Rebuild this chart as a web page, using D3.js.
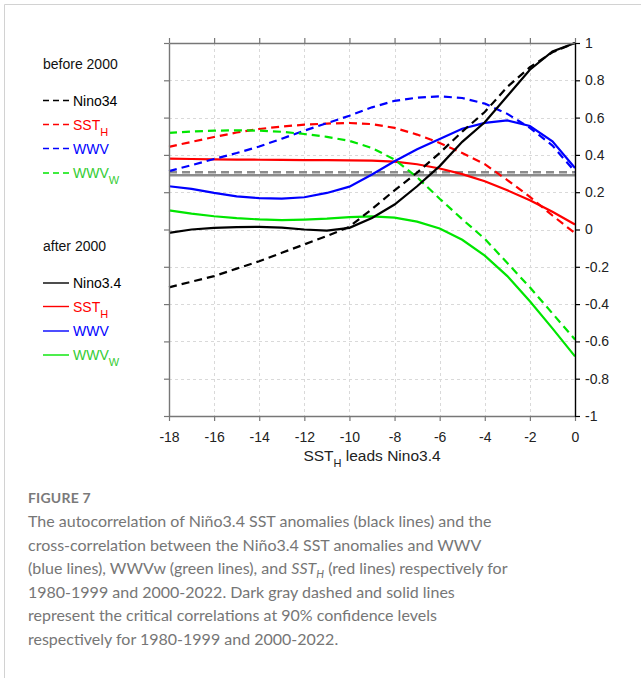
<!DOCTYPE html>
<html>
<head>
<meta charset="utf-8">
<script src="https://cdn.jsdelivr.net/npm/d3@7"></script>
<style>
  body { margin: 0; background: #fff; }
  svg { display: block; }
</style>
</head>
<body>
<svg id="fig" width="641" height="678"></svg>
<script>
// Lag in months (negative: SST_H / WWV lead Nino3.4)
const lags = [-18, -17, -16, -15, -14, -13, -12, -11, -10, -9, -8, -7, -6, -5, -4, -3, -2, -1, 0];

// 1980-1999 (before 2000)
const nino34Before = [-0.31, -0.28, -0.25, -0.21, -0.17, -0.125, -0.08, -0.035, 0.015, 0.11, 0.21, 0.305, 0.41, 0.525, 0.63, 0.765, 0.87, 0.95, 1.0];
const ssthBefore   = [0.443, 0.47, 0.496, 0.52, 0.539, 0.552, 0.562, 0.568, 0.571, 0.565, 0.545, 0.509, 0.464, 0.41, 0.35, 0.265, 0.175, 0.075, -0.02];
const wwvBefore    = [0.313, 0.345, 0.378, 0.41, 0.445, 0.487, 0.53, 0.57, 0.61, 0.655, 0.69, 0.707, 0.714, 0.705, 0.675, 0.62, 0.545, 0.45, 0.31];
const wwvwBefore   = [0.518, 0.525, 0.53, 0.532, 0.53, 0.524, 0.512, 0.497, 0.475, 0.437, 0.375, 0.28, 0.165, 0.055, -0.05, -0.18, -0.31, -0.45, -0.59];

// 2000-2022 (after 2000)
const nino34After  = [-0.018, 0.0, 0.009, 0.013, 0.014, 0.01, 0.0, -0.006, 0.009, 0.062, 0.134, 0.232, 0.34, 0.47, 0.575, 0.716, 0.857, 0.955, 1.0];
const ssthAfter    = [0.38, 0.378, 0.376, 0.375, 0.374, 0.373, 0.372, 0.372, 0.371, 0.369, 0.364, 0.35, 0.327, 0.297, 0.259, 0.21, 0.157, 0.095, 0.027];
const wwvAfter     = [0.232, 0.218, 0.196, 0.178, 0.168, 0.166, 0.173, 0.196, 0.23, 0.295, 0.366, 0.43, 0.485, 0.54, 0.572, 0.585, 0.555, 0.473, 0.33];
const wwvwAfter    = [0.103, 0.085, 0.071, 0.061, 0.054, 0.05, 0.053, 0.058, 0.066, 0.07, 0.064, 0.042, 0.005, -0.055, -0.14, -0.25, -0.385, -0.53, -0.68];

// Critical correlations at the 90% confidence level
const critBefore = 0.307;
const critAfter = 0.291;

const xTicks = [-18, -16, -14, -12, -10, -8, -6, -4, -2, 0];
const yTicks = [-1, -0.8, -0.6, -0.4, -0.2, 0, 0.2, 0.4, 0.6, 0.8, 1];

const RED = "#ff0000", BLUE = "#0000ff", GREEN = "#00e600", BLACK = "#000000";
const GREEN_TEXT = "#33cc33";

const series = [
  { values: ssthAfter,    color: RED,   dashed: false },
  { values: wwvAfter,     color: BLUE,  dashed: false },
  { values: wwvwAfter,    color: GREEN, dashed: false },
  { values: ssthBefore,   color: RED,   dashed: true },
  { values: wwvBefore,    color: BLUE,  dashed: true },
  { values: wwvwBefore,   color: GREEN, dashed: true },
  { values: nino34Before, color: BLACK, dashed: true },
  { values: nino34After,  color: BLACK, dashed: false }
];

const svg = d3.select("#fig");
const FONT = "'Liberation Sans', Arial, sans-serif";

// outer figure frame
svg.append("path")
  .attr("d", "M4.5,678 L4.5,4.5 L641,4.5")
  .attr("fill", "none").attr("stroke", "#d2d2d2").attr("stroke-width", 1);

const plot = { left: 169, right: 575, top: 43, bottom: 416 };
const x = d3.scaleLinear().domain([-18, 0]).range([plot.left, plot.right]);
const y = d3.scaleLinear().domain([-1, 1]).range([plot.bottom, plot.top]);

// grid
const grid = svg.append("g").attr("stroke", "#d9d9d9").attr("stroke-width", 1).attr("stroke-dasharray", "3,3");
grid.selectAll("line.gx").data(xTicks.slice(1, -1)).join("line")
  .attr("x1", d => Math.round(x(d)) + 0.5).attr("x2", d => Math.round(x(d)) + 0.5)
  .attr("y1", plot.top).attr("y2", plot.bottom);
grid.selectAll("line.gy").data(yTicks.slice(1, -1)).join("line")
  .attr("x1", plot.left).attr("x2", plot.right)
  .attr("y1", d => Math.round(y(d)) + 0.5).attr("y2", d => Math.round(y(d)) + 0.5);

// critical correlation levels
svg.append("line")
  .attr("x1", plot.left).attr("x2", plot.right)
  .attr("y1", y(critAfter)).attr("y2", y(critAfter))
  .attr("stroke", "#8c8c8c").attr("stroke-width", 2.4);
svg.append("line")
  .attr("x1", plot.left).attr("x2", plot.right)
  .attr("y1", y(critBefore)).attr("y2", y(critBefore))
  .attr("stroke", "#8c8c8c").attr("stroke-width", 2.6).attr("stroke-dasharray", "8,5");

// correlation curves
const line = d3.line().x((d, i) => x(lags[i])).y(d => y(d));
svg.append("g").selectAll("path").data(series).join("path")
  .attr("d", d => line(d.values))
  .attr("fill", "none")
  .attr("stroke", d => d.color)
  .attr("stroke-width", 2.2)
  .attr("stroke-dasharray", d => d.dashed ? "8,5" : null);

// axes
const AX = "#777";
const styleAxis = (g, color) => {
  g.select(".domain").attr("stroke", color).attr("stroke-width", 1.4);
  g.selectAll(".tick line").attr("stroke", color).attr("stroke-width", 1.2);
  g.selectAll(".tick text").attr("fill", "#222").attr("font-family", FONT).attr("font-size", 14);
};
svg.append("g").attr("transform", `translate(0,${plot.bottom})`)
  .call(d3.axisBottom(x).tickValues(xTicks).tickSize(5).tickSizeOuter(0).tickPadding(11).tickFormat(d => String(d)))
  .call(g => styleAxis(g, AX));
svg.append("g").attr("transform", `translate(0,${plot.top})`)
  .call(d3.axisTop(x).tickValues(xTicks).tickSize(5).tickSizeOuter(0).tickFormat(""))
  .call(g => styleAxis(g, AX));
svg.append("g").attr("transform", `translate(${plot.left},0)`)
  .call(d3.axisLeft(y).tickValues(yTicks).tickSize(5).tickSizeOuter(0).tickFormat(""))
  .call(g => styleAxis(g, AX));
svg.append("g").attr("transform", `translate(${plot.right},0)`)
  .call(d3.axisRight(y).tickValues(yTicks).tickSize(5).tickSizeOuter(0).tickPadding(5).tickFormat(d => String(d)))
  .call(g => styleAxis(g, "#000"));

// x-axis title
const xt = svg.append("text").attr("x", 372).attr("y", 461).attr("text-anchor", "middle")
  .attr("font-family", FONT).attr("font-size", 15.5).attr("fill", "#222");
xt.append("tspan").text("SST");
xt.append("tspan").attr("font-size", 11).attr("dy", 6).text("H");
xt.append("tspan").attr("dy", -6).text(" leads Nino3.4");

// legend
const legend = svg.append("g").attr("font-family", FONT).attr("font-size", 14);
const legendRows = [
  { title: "before 2000", ty: 69, items: [
    { label: "Nino34", sub: null, color: BLACK, text: BLACK, dashed: true, ly: 100.5 },
    { label: "SST", sub: "H", color: RED, text: RED, dashed: true, ly: 124.5 },
    { label: "WWV", sub: null, color: BLUE, text: BLUE, dashed: true, ly: 148.5 },
    { label: "WWV", sub: "W", color: GREEN, text: GREEN_TEXT, dashed: true, ly: 173 }
  ]},
  { title: "after 2000", ty: 251, items: [
    { label: "Nino3.4", sub: null, color: BLACK, text: BLACK, dashed: false, ly: 283 },
    { label: "SST", sub: "H", color: RED, text: RED, dashed: false, ly: 306.5 },
    { label: "WWV", sub: null, color: BLUE, text: BLUE, dashed: false, ly: 331 },
    { label: "WWV", sub: "W", color: GREEN, text: GREEN_TEXT, dashed: false, ly: 355 }
  ]}
];
legendRows.forEach(block => {
  legend.append("text").attr("x", 43).attr("y", block.ty).attr("fill", "#111").text(block.title);
  block.items.forEach(it => {
    legend.append("line")
      .attr("x1", 43).attr("x2", 69).attr("y1", it.ly).attr("y2", it.ly)
      .attr("stroke", it.color).attr("stroke-width", 1.4)
      .attr("stroke-dasharray", it.dashed ? "6,4" : null);
    const t = legend.append("text").attr("x", 73).attr("y", it.ly + 5).attr("fill", it.text);
    t.append("tspan").text(it.label);
    if (it.sub) t.append("tspan").attr("font-size", 11).attr("dy", 6).text(it.sub);
  });
});

// caption
const CAP = "'Lato', 'Open Sans', sans-serif";
svg.append("text").attr("x", 28).attr("y", 502.5)
  .attr("font-family", CAP).attr("font-size", 14).attr("font-weight", 700)
  .attr("fill", "#7a7a7a").attr("letter-spacing", 0.2).text("FIGURE 7");

const capLines = [
  ["The autocorrelation of Niño3.4 SST anomalies (black lines) and the"],
  ["cross-correlation between the Niño3.4 SST anomalies and WWV"],
  ["(blue lines), WWVw (green lines), and ", { i: "SST" }, { sub: "H" }, " (red lines) respectively for"],
  ["1980-1999 and 2000-2022. Dark gray dashed and solid lines"],
  ["represent the critical correlations at 90% confidence levels"],
  ["respectively for 1980-1999 and 2000-2022."]
];
const cap = svg.append("g").attr("font-family", CAP).attr("font-size", 16).attr("fill", "#767676");
capLines.forEach((parts, k) => {
  const t = cap.append("text").attr("x", 28).attr("y", 527 + k * 23.5);
  let shifted = false;
  parts.forEach(p => {
    if (typeof p === "string") {
      const s = t.append("tspan").text(p);
      if (shifted) { s.attr("dy", -4); shifted = false; }
    } else if (p.i) {
      t.append("tspan").attr("font-style", "italic").text(p.i);
    } else if (p.sub) {
      t.append("tspan").attr("font-style", "italic").attr("font-size", 11).attr("dy", 4).text(p.sub);
      shifted = true;
    }
  });
});
</script>
</body>
</html>
